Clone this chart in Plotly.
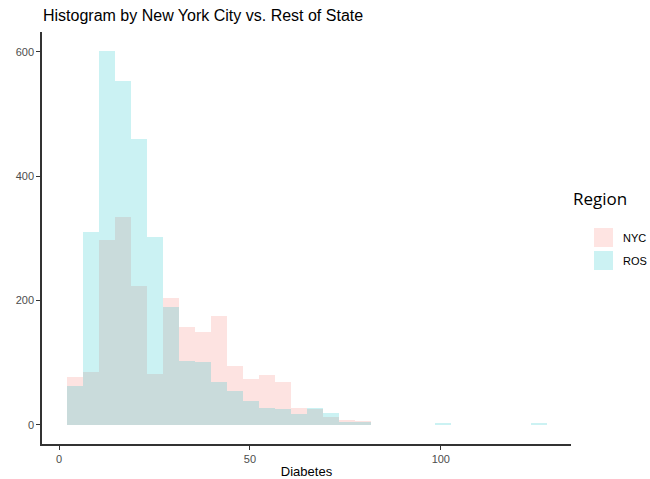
import plotly.graph_objects as go

# Histogram bins (30 bins)
bin_start = 2.02
bin_width = 4.194
nyc_counts = [77, 85, 297, 335, 224, 82, 204, 158, 150, 176, 95, 74, 81, 69, 27, 26, 13, 8, 7,
              0, 0, 0, 0, 0, 0, 0, 0, 0, 0, 0]
ros_counts = [62, 310, 602, 553, 460, 303, 190, 103, 101, 69, 54, 39, 28, 26, 18, 28, 19, 5, 5,
              0, 0, 0, 0, 3, 0, 0, 0, 0, 0, 3]
regions = ["NYC", "ROS"]
colors = {"NYC": "#F8766D", "ROS": "#00BFC4"}
x_ticks = [0, 50, 100]
y_ticks = [0, 200, 400, 600]

centers = [bin_start + bin_width * (i + 0.5) for i in range(len(nyc_counts))]

fig = go.Figure()
for name, counts in zip(regions, [nyc_counts, ros_counts]):
    fig.add_trace(go.Bar(
        x=centers, y=counts, width=bin_width, name=name,
        marker=dict(color=colors[name], line=dict(width=0)),
        opacity=0.2, showlegend=False,
    ))

axis_common = dict(
    showgrid=False, zeroline=False, showline=True, linecolor="#333333", linewidth=1.5,
    ticks="outside", ticklen=4, tickcolor="#333333", tickwidth=1, automargin=False,
    tickfont=dict(family="Liberation Sans, Arial", size=11, color="#4D4D4D"),
)

W, H = 650, 479
PL, PR, PT, PB = 42, 571, 32, 444
PW, PH = PR - PL, PB - PT

fig.update_layout(
    width=W, height=H,
    margin=dict(l=PL, r=W - PR, t=PT, b=H - PB),
    plot_bgcolor="white", paper_bgcolor="white",
    barmode="overlay", bargap=0,
    title=dict(text="Histogram by New York City vs. Rest of State",
               x=43 / W, xanchor="left", y=1 - 15 / H, yanchor="middle",
               font=dict(family="Liberation Sans, Arial", size=16, color="black")),
    xaxis=dict(range=[-4.46, 134.1], tickvals=x_ticks,
               title=dict(text="Diabetes", standoff=4,
                          font=dict(family="Liberation Sans, Arial", size=13, color="black")),
               **axis_common),
    yaxis=dict(range=[-30.6, 632], tickvals=y_ticks, **axis_common),
)

# Manual legend (ggplot-style)
fig.add_annotation(text="Region", xref="paper", yref="paper",
                   x=(571 - PL) / PW, y=1 - (199 - PT) / PH, xanchor="left", yanchor="middle",
                   showarrow=False, font=dict(family="Open Sans, Liberation Sans", size=17, color="black"))
for i, name in enumerate(regions):
    y0 = 228 + i * 23
    fig.add_shape(type="rect", xref="paper", yref="paper",
                  x0=(594 - PL) / PW, x1=(613 - PL) / PW,
                  y0=1 - (y0 + 19 - PT) / PH, y1=1 - (y0 - PT) / PH,
                  fillcolor=colors[name], opacity=0.2, line=dict(width=0))
    fig.add_annotation(text=name, xref="paper", yref="paper",
                       x=(621 - PL) / PW, y=1 - (y0 + 9.5 - PT) / PH,
                       xanchor="left", yanchor="middle", showarrow=False,
                       font=dict(family="Liberation Sans, Arial", size=11, color="black"))

fig.write_html("out.html", config={"displayModeBar": False},
               post_script="document.body.style.margin='0';document.body.style.overflow='hidden';")
